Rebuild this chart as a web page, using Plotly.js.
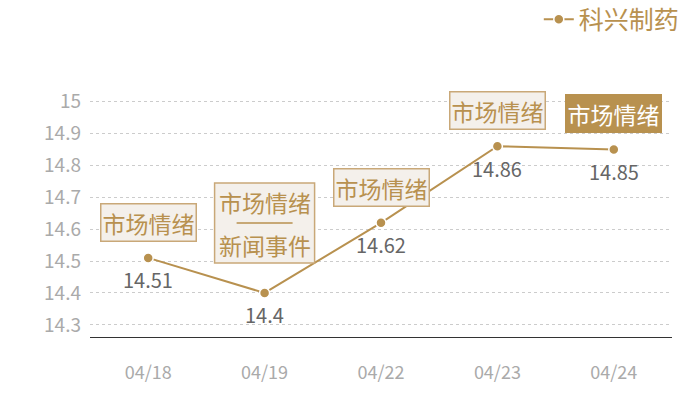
<!DOCTYPE html>
<html>
<head>
<meta charset="utf-8">
<script src="https://cdn.plot.ly/plotly-3.0.1.min.js"></script>
<style>
  html, body { margin: 0; padding: 0; background: #fff; }
  #chart { width: 700px; height: 400px; }
</style>
</head>
<body>
<div id="chart"></div>
<script>
// Data
const dates = ['04/18', '04/19', '04/22', '04/23', '04/24'];
const prices = [14.51, 14.4, 14.62, 14.86, 14.85];
const tagTop = ['市场情绪', '市场情绪', '市场情绪', '市场情绪', '市场情绪'];
const tagBottom = ['', '新闻事件', '', '', ''];
const yTicks = [14.3, 14.4, 14.5, 14.6, 14.7, 14.8, 14.9, 15];
const seriesName = '科兴制药';

const gold = '#b8914f';
const boxFill = '#f4f0eb';
const boxLine = '#c9a878';
const font = '"Noto Sans CJK SC", "Noto Sans", sans-serif';

const trace = {
    x: dates,
    y: prices,
    name: seriesName,
    type: 'scatter',
    mode: 'lines+markers',
    line: { color: gold, width: 2 },
    marker: { color: gold, size: 10, line: { color: '#fff', width: 1.5 } },
    cliponaxis: false
};

const annotations = [];
const shapes = [];

dates.forEach(function (d, i) {
    const last = i === dates.length - 1;
    const tagFont = { family: font, size: 23, color: last ? '#fff' : gold };
    if (tagBottom[i]) {
        // two-part tag: box and divider are pixel-sized shapes anchored at the point
        shapes.push({
            type: 'rect', xref: 'x', yref: 'y',
            xsizemode: 'pixel', ysizemode: 'pixel',
            xanchor: i, yanchor: prices[i],
            x0: -50, x1: 50, y0: 30, y1: 110,
            fillcolor: boxFill,
            line: { color: boxLine, width: 1.5 }
        }, {
            type: 'line', xref: 'x', yref: 'y',
            xsizemode: 'pixel', ysizemode: 'pixel',
            xanchor: i, yanchor: prices[i],
            x0: -28, x1: 28, y0: 70, y1: 70,
            line: { color: gold, width: 1.5 }
        });
        annotations.push(
            { x: d, y: prices[i], text: tagTop[i], yshift: 91 },
            { x: d, y: prices[i], text: tagBottom[i], yshift: 48 }
        );
        annotations.slice(-2).forEach(function (a) {
            a.xref = 'x'; a.yref = 'y'; a.showarrow = false;
            a.yanchor = 'middle'; a.font = tagFont;
        });
    } else {
        annotations.push({
            x: d, y: prices[i], xref: 'x', yref: 'y',
            text: tagTop[i],
            showarrow: false,
            yanchor: 'bottom',
            yshift: 16,
            font: tagFont,
            bgcolor: last ? gold : boxFill,
            bordercolor: last ? gold : boxLine,
            borderwidth: 1.5,
            borderpad: 1
        });
    }
    // value label under the point
    annotations.push({
        x: d, y: prices[i], xref: 'x', yref: 'y',
        text: String(prices[i]),
        showarrow: false,
        yanchor: 'middle',
        yshift: -22,
        font: { family: font, size: 20, color: '#666' }
    });
});

const layout = {
    width: 700,
    height: 400,
    margin: { l: 90, r: 28, t: 100, b: 63, autoexpand: false },
    paper_bgcolor: '#fff',
    plot_bgcolor: '#fff',
    font: { family: font },
    showlegend: true,
    legend: {
        orientation: 'h',
        x: 1.022, xanchor: 'right',
        y: 1.34, yanchor: 'middle',
        font: { family: font, size: 25, color: gold },
        bgcolor: 'rgba(0,0,0,0)'
    },
    xaxis: {
        type: 'category',
        range: [-0.5, 4.5],
        showgrid: false,
        zeroline: false,
        showline: true,
        linecolor: '#333',
        linewidth: 1,
        ticks: '',
        ticklabelstandoff: 19,
        tickfont: { family: font, size: 18, color: '#aaa' }
    },
    yaxis: {
        range: [14.262, 15.005],
        tickvals: yTicks,
        ticktext: yTicks.map(String),
        showgrid: true,
        gridcolor: '#ccc',
        griddash: 'dot',
        gridwidth: 1,
        zeroline: false,
        showline: false,
        ticks: '',
        ticklabelstandoff: 8,
        tickfont: { family: font, size: 19, color: '#aaa' }
    },
    shapes: shapes,
    annotations: annotations
};

Plotly.newPlot('chart', [trace], layout, { displayModeBar: false, staticPlot: true });
</script>
</body>
</html>
